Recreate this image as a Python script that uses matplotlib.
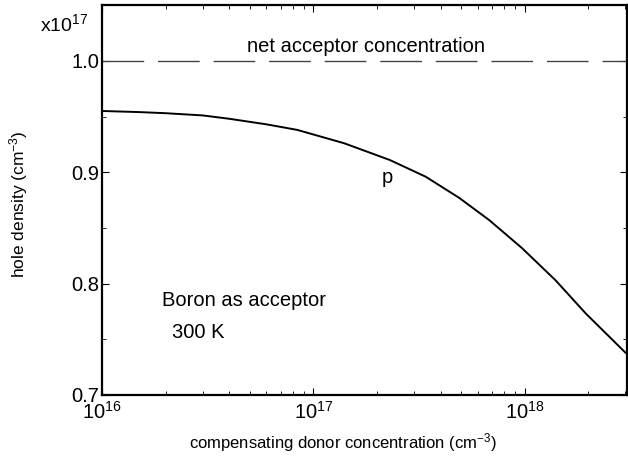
import matplotlib
matplotlib.use("Agg")
import matplotlib.pyplot as plt
import matplotlib.ticker as ticker
import numpy as np

plt.rcParams["font.family"] = ["Liberation Sans", "DejaVu Sans"]
plt.rcParams["mathtext.fontset"] = "custom"
plt.rcParams["mathtext.rm"] = "Liberation Sans"
plt.rcParams["mathtext.it"] = "Liberation Sans:italic"

# ─── data ────────────────────────────────────────────────────────────────────
donor_conc = [1.0e16, 1.5e16, 2.0e16, 3.0e16, 4.0e16, 6.0e16, 8.4e16, 1.4e17,
              2.3e17, 3.4e17, 4.9e17, 6.8e17, 9.7e17, 1.4e18, 1.95e18, 3.0e18]
hole_density = [0.955, 0.954, 0.953, 0.951, 0.948, 0.943, 0.938, 0.926,
                0.911, 0.896, 0.877, 0.857, 0.832, 0.803, 0.773, 0.738]
net_acceptor = 1.0

x_min, x_max = 1e16, 3.05e18
y_min, y_max = 0.7, 1.05

# ─── figure ──────────────────────────────────────────────────────────────────
fig = plt.figure(figsize=(6.28, 4.57), dpi=100)
ax = fig.add_axes([0.1624, 0.1357, 0.836, 0.853])

ax.plot(donor_conc, hole_density, color="black", lw=1.4)
ax.axhline(net_acceptor, color="#444444", lw=1.0, dashes=(30, 10))

ax.set_xscale("log")
ax.set_xlim(x_min, x_max)
ax.set_ylim(y_min, y_max)

ax.set_yticks([0.7, 0.8, 0.9, 1.0])
ax.yaxis.set_minor_locator(ticker.FixedLocator([0.75, 0.85, 0.95, 1.05]))
ax.yaxis.set_major_formatter(ticker.FormatStrFormatter("%.1f"))
ax.xaxis.set_major_locator(ticker.FixedLocator([1e16, 1e17, 1e18]))
ax.xaxis.set_major_formatter(ticker.FuncFormatter(
    lambda v, _: r"$10^{%d}$" % round(np.log10(v))))
ax.xaxis.set_minor_locator(ticker.LogLocator(base=10, subs=np.arange(2, 10)))
ax.xaxis.set_minor_formatter(ticker.NullFormatter())

ax.tick_params(which="both", direction="in", top=True, right=True)
ax.tick_params(which="major", length=5, width=0.8, labelsize=14.5, pad=2)
ax.tick_params(axis="x", which="major", pad=4)
ax.tick_params(which="minor", length=3, width=0.6)
for s in ax.spines.values():
    s.set_linewidth(1.6)

ax.set_xlabel(r"compensating donor concentration (cm$^{-3}$)", fontsize=12)
ax.xaxis.set_label_coords(0.459, -0.092)
ax.set_ylabel(r"hole density (cm$^{-3}$)", fontsize=12.5)
ax.yaxis.set_label_coords(-0.137, 0.49)

fig.text(0.064, 0.947, r"x10$^{17}$", fontsize=14, ha="left", va="center")
ax.text(1.78e17, 1.0126, "net acceptor concentration", fontsize=14.5, ha="center", va="center")
ax.text(2.24e17, 0.895, "p", fontsize=14.5, ha="center", va="center")
ax.text(4.7e16, 0.785, "Boron as acceptor", fontsize=14.5, ha="center", va="center")
ax.text(2.85e16, 0.756, "300 K", fontsize=14.5, ha="center", va="center")

fig.savefig("out.png", dpi=100)
